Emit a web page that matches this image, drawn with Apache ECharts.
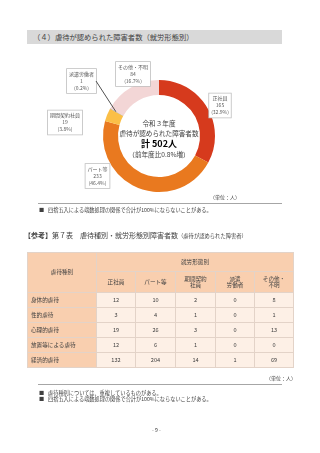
<!DOCTYPE html>
<html><head><meta charset="utf-8">
<script src="https://cdn.jsdelivr.net/npm/echarts@6/dist/echarts.min.js"></script>
<style>
html,body{margin:0;padding:0;width:320px;height:453px;background:#fff;overflow:hidden;font-family:"Noto Sans CJK JP","Noto Sans",sans-serif;color:#404040;}
#chart{position:absolute;left:0;top:0;width:320px;height:453px;}
.abs{position:absolute;white-space:nowrap;}
.bar{left:27px;top:30px;width:255px;height:14px;background:#D9D9D9;font-size:7.3px;line-height:14px;padding-left:6px;box-sizing:border-box;}
.rule{position:absolute;height:1px;background:#A6A6A6;}
.note{font-size:5.2px;line-height:7px;}
.unit{font-size:5px;line-height:7px;}
table{position:absolute;left:27px;top:252px;border-collapse:collapse;table-layout:fixed;font-size:5.6px;color:#404040;}
td{border:1px solid #E3D3C8;padding:0;text-align:center;line-height:6.5px;}
td.h{background:#F9CFAF;}
td.d{background:#FDF0E6;}
td.r{background:#F9CFAF;text-align:left;padding-left:3px;}
</style></head>
<body>
<div id="chart"></div>
<div class="abs bar" id="title"></div>
<div class="abs unit" style="left:210px;top:193px;">（単位：人）</div>
<div class="rule" style="left:38px;top:203px;width:244px;"></div>
<div class="abs note" style="left:39px;top:205.5px;">■</div>
<div class="abs note" style="left:48px;top:205.5px;" id="note1"></div>
<div class="abs" style="left:24px;top:230px;font-size:7px;line-height:10px;" id="tabTitle"></div>
<table id="tbl"></table>
<div class="abs unit" style="left:266px;top:373.5px;">（単位：人）</div>
<div class="rule" style="left:38px;top:384px;width:244px;"></div>
<div class="abs note" style="left:39px;top:388.5px;">■</div>
<div class="abs note" style="left:48px;top:388.5px;" id="note2"></div>
<div class="abs note" style="left:39px;top:394.5px;">■</div>
<div class="abs note" style="left:48px;top:394.5px;" id="note3"></div>
<div class="abs note" style="left:152px;top:425.5px;">- 9 -</div>
<script>
// ---- data ----
var titleText = "（４）虐待が認められた障害者数（就労形態別）";
var employCats = ["正社員", "パート等", "期間契約社員", "派遣労働者", "その他・不明"];
var employValues = [165, 233, 19, 1, 84];
var centerLines = ["令和３年度", "虐待が認められた障害者数", "計 502人", "（前年度比0.8%増）"];
var tableHeadTop = "就労形態別";
var tableRowHead = "虐待種別";
var tableCols = ["正社員", "パート等", "期間契約<br>社員", "派遣<br>労働者", "その他・<br>不明"];
var abuseTypes = ["身体的虐待", "性的虐待", "心理的虐待", "放置等による虐待", "経済的虐待"];
var rowShintai = [12, 10, 2, 0, 8];
var rowSeiteki = [3, 4, 1, 0, 1];
var rowShinri = [19, 26, 3, 0, 13];
var rowHochi = [12, 6, 1, 0, 0];
var rowKeizai = [132, 204, 14, 1, 69];
var noteRound = "四捨五入による端数処理の関係で合計が100%にならないことがある。";
var noteDup = "虐待種別については、重複しているものがある。";

// ---- text ----
document.getElementById('title').textContent = titleText;
document.getElementById('note1').textContent = noteRound;
document.getElementById('note2').textContent = noteDup;
document.getElementById('note3').textContent = noteRound;
document.getElementById('tabTitle').innerHTML = '<b>【参考】</b>第７表　虐待種別・就労形態別障害者数<span style="font-size:5.3px">（虐待が認められた障害者）</span>';

// ---- table ----
var rows = [rowShintai, rowSeiteki, rowShinri, rowHochi, rowKeizai];
var colW = [69, 39, 40, 40, 39, 39];
var html = '<colgroup>' + colW.map(function(w){return '<col style="width:'+w+'px">';}).join('') + '</colgroup>';
html += '<tr style="height:19px"><td class="h" rowspan="2">' + tableRowHead + '</td><td class="h" colspan="5">' + tableHeadTop + '</td></tr>';
html += '<tr style="height:21px">' + tableCols.map(function(c){return '<td class="h">'+c+'</td>';}).join('') + '</tr>';
rows.forEach(function(r, i){
  html += '<tr style="height:15px"><td class="r">' + abuseTypes[i] + '</td>' + r.map(function(v){return '<td class="d">'+v+'</td>';}).join('') + '</tr>';
});
document.getElementById('tbl').innerHTML = html;

// ---- donut ----
var colors = ['#D63A1D', '#E9791F', '#FBBF47', '#9E9E9E', '#F3D6D6'];
var labelPos = [[220, 105.5], [97.5, 176], [65, 122.5], [81.5, 81], [133, 74]];
var pieCenter = [159, 136], pieR = [41, 56];

// leader-line anchor for the tiny 派遣労働者 slice, derived from the data
var total = employValues.reduce(function(a, b){ return a + b; }, 0);
var before = employValues.slice(0, 3).reduce(function(a, b){ return a + b; }, 0);
var frac = (before + employValues[3] / 2) / total;
var ang = (-90 + 360 * frac) * Math.PI / 180;
var rr = (pieR[0] + pieR[1]) / 2 + 1;
var lx = pieCenter[0] + Math.cos(ang) * rr, ly = pieCenter[1] + Math.sin(ang) * rr;

var chart = echarts.init(document.getElementById('chart'), null, {renderer: 'canvas'});
var graphics = centerLines.map(function(t, i){
  var ys = [123, 133.5, 144, 154.5];
  return {type: 'text', z: 10,
    style: {text: t, x: 159, y: ys[i], textAlign: 'center', textVerticalAlign: 'middle',
      fontSize: i === 2 ? 9 : 6.6, fontWeight: i === 2 ? 'bold' : 'normal',
      fontFamily: 'Noto Sans CJK JP', fill: i === 2 ? '#000' : '#404040'}};
});
graphics.push({type: 'polyline', z: 100, silent: true,
  shape: {points: [[labelPos[3][0] + 14.5, labelPos[3][1]], [lx, ly]]},
  style: {stroke: '#505050', lineWidth: 1, fill: 'none'}});

chart.setOption({
  animation: false,
  series: [{
    type: 'pie',
    center: pieCenter,
    radius: pieR,
    startAngle: 90,
    clockwise: true,
    percentPrecision: 1,
    avoidLabelOverlap: false,
    silent: true,
    labelLine: {show: false},
    data: employCats.map(function(n, i){
      return {name: n, value: employValues[i], itemStyle: {color: colors[i]}};
    }),
    label: {
      show: true,
      formatter: '{b}\n{c}\n({d}%)',
      fontSize: 5,
      lineHeight: 7,
      color: '#595959',
      fontFamily: 'Noto Sans CJK JP',
      backgroundColor: '#fff',
      borderColor: '#BFBFBF',
      borderWidth: 0.8,
      padding: [2, 2, 1, 2],
      align: 'center'
    },
    labelLayout: function(p){
      var pos = labelPos[p.dataIndex];
      return {x: pos[0], y: pos[1], align: 'center', verticalAlign: 'middle'};
    }
  }],
  graphic: {elements: graphics}
});
</script>
</body></html>
